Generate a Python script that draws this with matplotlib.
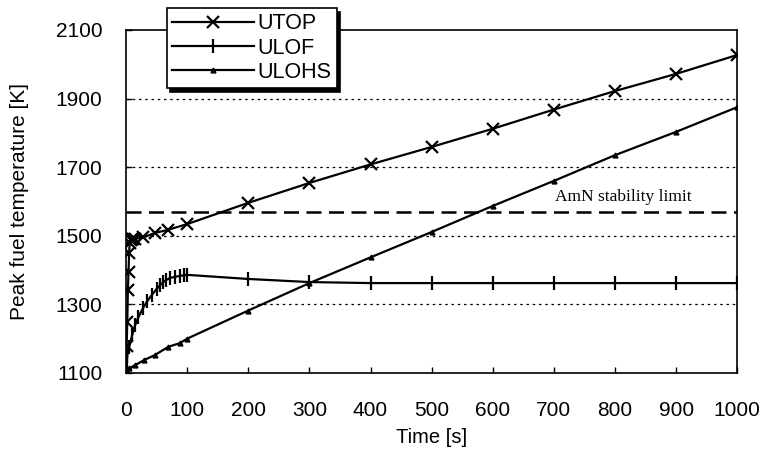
import numpy as np
import matplotlib as mpl
import matplotlib.pyplot as plt

mpl.rcParams['font.family'] = ['Liberation Sans', 'DejaVu Sans']

# UTOP transient
t_utop = [0, 1, 2, 3, 4, 5, 6, 8, 10, 12, 15, 28, 47, 68, 100,
          200, 300, 400, 500, 600, 700, 800, 900, 1000]
T_utop = [1100, 1180, 1250, 1342, 1394, 1450, 1480, 1488, 1490, 1490, 1491,
          1495, 1508, 1517, 1534, 1596, 1654, 1708, 1759, 1812, 1868, 1922,
          1972, 2027]

# ULOF transient
t_ulof = [0, 1, 2, 5, 10, 15, 20, 28, 35, 42, 50, 55, 61, 66, 72, 80, 88,
          95, 100, 200, 300, 400, 500, 600, 700, 800, 900, 1000]
T_ulof = [1100, 1130, 1150, 1175, 1210, 1240, 1262, 1290, 1310, 1327, 1345,
          1355, 1365, 1371, 1377, 1380, 1383, 1385, 1386, 1374, 1365, 1362,
          1362, 1362, 1362, 1362, 1362, 1362]

# ULOHS transient
t_ulohs = [0, 2, 5, 15, 30, 47, 69, 88, 100, 200, 300, 400, 500, 600,
           700, 800, 900, 1000]
T_ulohs = [1100, 1108, 1113, 1123, 1138, 1152, 1176, 1187, 1200, 1282,
           1362, 1437, 1511, 1587, 1660, 1735, 1803, 1875]

amn_limit = 1570

fig = plt.figure(figsize=(7.64, 4.61), dpi=100)
ax = fig.add_axes([0.165, 0.191, 0.8, 0.744])

ax.plot(t_utop, T_utop, 'k-', marker='x', ms=8, mew=1.6, lw=1.6, label='UTOP')
ax.plot(t_ulof, T_ulof, 'k-', marker='|', ms=10, mew=1.6, lw=1.6, label='ULOF')
ax.plot(t_ulohs, T_ulohs, 'k-', marker='^', ms=3.5, lw=1.6, label='ULOHS')

ax.axhline(amn_limit, color='k', lw=1.8, ls=(0, (6, 3)))
ax.text(702, 1590, 'AmN stability limit', family=['Liberation Serif'],
        fontsize=12.5, va='bottom')

ax.set_xlim(0, 1000)
ax.set_ylim(1100, 2100)
ax.set_xticks(np.arange(0, 1001, 100))
ax.set_yticks(np.arange(1100, 2101, 200))
for yy in [1300, 1500, 1700, 1900]:
    ax.axhline(yy, color='k', lw=0.9, ls=(0, (2, 3)), zorder=0)

ax.tick_params(direction='in', length=4, width=1, labelsize=15)
ax.tick_params(axis='y', pad=17)
ax.tick_params(axis='x', pad=20)
for s in ax.spines.values():
    s.set_linewidth(1.2)

ax.set_xlabel('Time [s]', fontsize=14.5, labelpad=6)
ax.set_ylabel('Peak fuel temperature [K]', fontsize=15, labelpad=19)

leg = ax.legend(loc='upper left', bbox_to_anchor=(0.067, 1.064), fontsize=15.5,
                handlelength=3.8, labelspacing=0.15, handletextpad=0.15,
                borderpad=0.25, borderaxespad=0, fancybox=False, framealpha=1,
                edgecolor='k',
                shadow={'ox': 2, 'oy': -3, 'color': 'black', 'alpha': 1})
leg.get_frame().set_linewidth(1.2)

plt.savefig('out.png', dpi=100)
